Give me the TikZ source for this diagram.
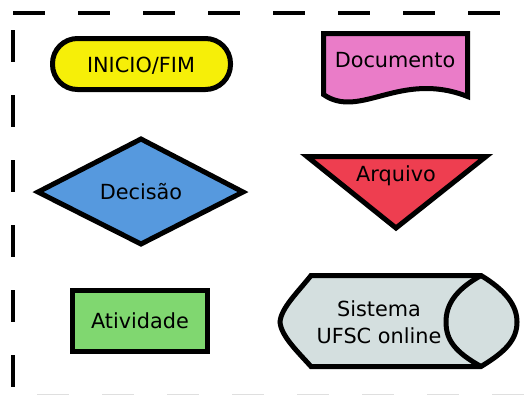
\documentclass[tikz,border=0pt]{standalone}
\usepackage{fontspec}
\setmainfont{DejaVu Sans}
\usepackage{xcolor}
\usepackage{tikz}

\definecolor{amarelo}{RGB}{246,239,8}
\definecolor{rosa}{RGB}{234,124,200}
\definecolor{azul}{RGB}{86,153,222}
\definecolor{vermelho}{RGB}{238,62,80}
\definecolor{verde}{RGB}{128,215,112}
\definecolor{cinza}{RGB}{212,223,223}

\begin{document}
\begin{tikzpicture}[x=1pt, y=-1pt,
  forma/.style={draw=black, line width=5pt},
  rotulo/.style={font=\fontsize{20.8}{27}\selectfont, anchor=base, inner sep=0pt}]
\useasboundingbox (0,0) rectangle (526,394);
% moldura tracejada
\draw[line width=4.5pt, dash pattern=on 32pt off 33pt] (13,13) -- (502,13);
\draw[line width=4.5pt, dash pattern=on 32pt off 33pt] (13,30) -- (13,394);
\draw[gray!25, line width=3pt, dash pattern=on 32pt off 33pt] (37,395) -- (526,395);
% terminal
\draw[forma, fill=amarelo, rounded corners=25pt] (52.5,38.5) rectangle (230.5,89.5);
\node[rotulo] (inicio) at (141,72) {INICIO/FIM};
% documento
\draw[forma, fill=rosa] (323.5,33.5) -- (467.5,33.5) -- (467.5,96.5)
  .. controls (400,70) and (360,120) .. (323.5,94.5) -- cycle;
\node[rotulo] (documento) at (395,67) {Documento};
% decisao
\draw[forma, fill=azul, line join=miter] (38,192) -- (141,139) -- (243,192) -- (141,244) -- cycle;
\node[rotulo] (decisao) at (141,199) {Decisão};
% arquivo
\draw[forma, fill=vermelho, line join=miter] (307,156.5) -- (486,156.5) -- (396,228) -- cycle;
\node[rotulo] (arquivo) at (396,181) {Arquivo};
% atividade
\draw[forma, line width=5.5pt, fill=verde] (72.5,290.5) rectangle (207.5,351.5);
\node[rotulo] (atividade) at (140,328) {Atividade};
% sistema
\draw[forma, fill=cinza] (311,275.5) -- (481,275.5)
  .. controls (505,290) and (517,305) .. (517,322)
  .. controls (517,340) and (505,352) .. (481,366.5) -- (311,366.5)
  .. controls (298,352) and (281,336) .. (280,322)
  .. controls (281,308) and (298,292) .. cycle;
\draw[forma] (481,275.5) .. controls (455,290) and (446,305) .. (446,322)
  .. controls (446,340) and (455,352) .. (481,366.5);
\node[rotulo, anchor=center, align=center] (sistema) at (379,322) {Sistema\\UFSC online};
\end{tikzpicture}
\end{document}
